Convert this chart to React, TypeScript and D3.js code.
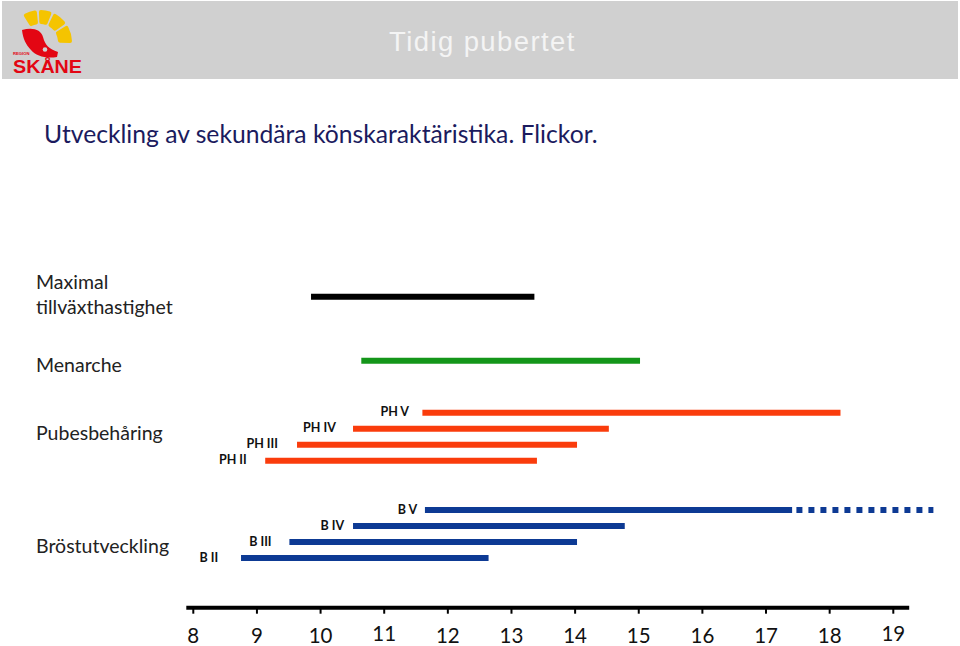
import React from "react";
import * as d3 from "d3";

const tickValues = [8, 9, 10, 11, 12, 13, 14, 15, 16, 17, 18, 19];
const tickLabelShift = [0, 0, 0, -2, 0, 0, 0, 0, 0, 0, 0, -2];
const growthSpurt = [9.85, 13.36];
const menarche = [10.64, 15.02];
const phStages = ["PH II", "PH III", "PH IV", "PH V"];
const phStart = [9.13, 9.63, 10.51, 11.6];
const phEnd = [13.4, 14.03, 14.53, 18.17];
const phLabelEnd = [8.84, 9.33, 10.24, 11.39];
const bStages = ["B II", "B III", "B IV", "B V"];
const bStart = [8.75, 9.51, 10.51, 11.64];
const bEnd = [12.64, 14.03, 14.78, 17.41];
const bLabelEnd = [8.39, 9.23, 10.37, 11.52];
const bVDottedEnd = 19.63;
const rowLabels = ["Maximal", "tillväxthastighet", "Menarche", "Pubesbehåring", "Bröstutveckling"];

const RED = "#fa3c0c";
const BLUE = "#0d3a94";
const GREEN = "#14961a";
const CAL = "Lato, 'Open Sans', sans-serif";

function Logo() {
  const arc = d3.arc<any>().innerRadius(18).outerRadius(32).cornerRadius(2);
  const segs = [[-32, -6], [-2, 22], [26, 54], [58, 92]];
  return (
    <g>
      {segs.map((s, i) => (
        <path
          key={i}
          transform="translate(40,42)"
          d={arc({ startAngle: (s[0] * Math.PI) / 180, endAngle: (s[1] * Math.PI) / 180 }) as string}
          fill="#f5c400"
        />
      ))}
      <path
        d="M22,30 C32,27 41,29 43,37 C45,45 49,49 58,52 L57,57 C46,59 36,56 31,50 C26,45 23,39 22,30 Z"
        fill="#e30613"
      />
      <circle cx={45} cy={49.5} r={2.3} fill="#d0d0d0" />
      <text x={13} y={55} fontSize={4.2} fontWeight="bold" fill="#e30613" fontFamily="'Liberation Sans', Arial, sans-serif">
        REGION
      </text>
      <text
        x={13}
        y={73}
        fontSize={19}
        fontWeight="bold"
        fill="#e30613"
        fontFamily="'Liberation Sans', Arial, sans-serif"
        textLength={69}
        lengthAdjust="spacingAndGlyphs"
      >
        SKÅNE
      </text>
    </g>
  );
}

export default function App() {
  const x = d3.scaleLinear().domain([8, 19]).range([193.3, 893.3]);
  const axisY = 607.7;
  const phY = (i: number) => 460.7 - i * 16;
  const bY = (i: number) => 558 - i * 16;

  return (
    <svg width={960} height={646} style={{ position: "absolute", left: 0, top: 0, background: "#fff" }}>
      <rect x={0} y={0} width={960} height={646} fill="#fff" />
      <rect x={2} y={1} width={956} height={78} fill="#d0d0d0" />
      <Logo />
      <text x={389} y={51} fontSize={27.5} letterSpacing={1.4} fill="#f4f4f4" fontFamily="'Liberation Sans', Arial, sans-serif">
        Tidig pubertet
      </text>
      <text x={44} y={143} fontSize={24.7} fill="#1b1b5e" fontFamily={CAL}>
        Utveckling av sekundära könskaraktäristika. Flickor.
      </text>

      {/* row labels */}
      <g fontFamily={CAL} fontSize={19.5} fill="#222">
        <text x={36} y={289}>{rowLabels[0]}</text>
        <text x={36} y={314}>{rowLabels[1]}</text>
        <text x={36} y={372}>{rowLabels[2]}</text>
        <text x={36} y={440}>{rowLabels[3]}</text>
        <text x={36} y={553}>{rowLabels[4]}</text>
      </g>

      {/* growth spurt */}
      <line x1={x(growthSpurt[0])} x2={x(growthSpurt[1])} y1={296.7} y2={296.7} stroke="#000" strokeWidth={6} />
      {/* menarche */}
      <line x1={x(menarche[0])} x2={x(menarche[1])} y1={360.7} y2={360.7} stroke={GREEN} strokeWidth={6} />

      {/* pubic hair */}
      {phStages.map((s, i) => (
        <g key={s}>
          <line x1={x(phStart[i])} x2={x(phEnd[i])} y1={phY(i)} y2={phY(i)} stroke={RED} strokeWidth={6} />
          <text
            x={x(phLabelEnd[i])}
            y={phY(i) - 1}
            textAnchor="end"
            dominantBaseline="central"
            fontSize={12.5}
            fontWeight="bold"
            fill="#111"
            fontFamily={CAL}
          >
            {s}
          </text>
        </g>
      ))}

      {/* breast */}
      {bStages.map((s, i) => (
        <g key={s}>
          <line x1={x(bStart[i])} x2={x(bEnd[i])} y1={bY(i)} y2={bY(i)} stroke={BLUE} strokeWidth={6} />
          <text
            x={x(bLabelEnd[i])}
            y={bY(i) - 1}
            textAnchor="end"
            dominantBaseline="central"
            fontSize={12.5}
            fontWeight="bold"
            fill="#111"
            fontFamily={CAL}
          >
            {s}
          </text>
        </g>
      ))}
      <line
        x1={x(bEnd[3]) + 4.3}
        x2={x(bVDottedEnd)}
        y1={bY(3)}
        y2={bY(3)}
        stroke={BLUE}
        strokeWidth={6}
        strokeDasharray="6 6"
      />

      {/* axis */}
      <line x1={x(7.89)} x2={x(19.25)} y1={axisY} y2={axisY} stroke="#000" strokeWidth={4} />
      {tickValues.map((t, i) => (
        <g key={t}>
          <line x1={x(t)} x2={x(t)} y1={axisY} y2={axisY + 6} stroke="#000" strokeWidth={2} />
          <text
            x={x(t)}
            y={643 + tickLabelShift[i]}
            textAnchor="middle"
            fontSize={20.5}
            fill="#111"
            fontFamily={CAL}
          >
            {t}
          </text>
        </g>
      ))}
    </svg>
  );
}
